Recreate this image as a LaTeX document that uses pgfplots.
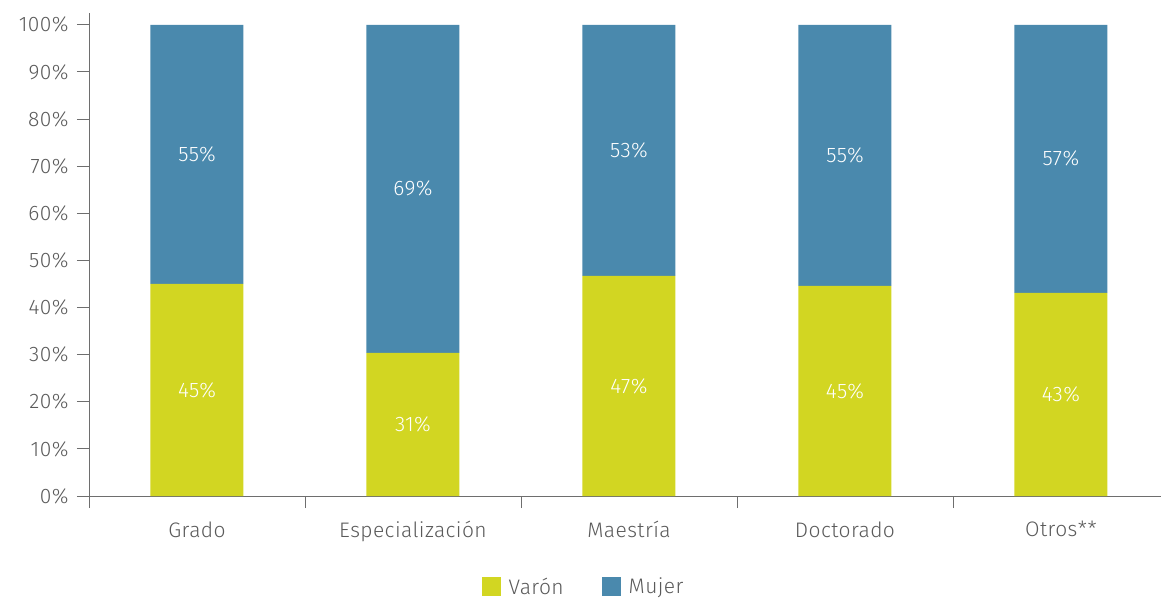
\documentclass[border=0pt]{standalone}
\usepackage{pgfplots}
\pgfplotsset{compat=1.18}
\usepackage{fontspec}
\setmainfont{Fira Sans}[UprightFont=* Light, LetterSpace=2]

\definecolor{verde}{HTML}{D2D622}
\definecolor{azul}{HTML}{4A89AD}
\definecolor{texto}{HTML}{5A5A5A}
\definecolor{eje}{HTML}{6E6E6E}

\begin{document}
\begin{tikzpicture}
\begin{axis}[
    ybar stacked,
    scale only axis,
    width=1080pt, height=483pt,
    xmin=-0.5, xmax=4.5,
    ymin=0, ymax=102.5,
    bar width=93pt,
    axis x line*=bottom,
    axis y line*=left,
    axis line style={draw=eje, line width=0.8pt},
    tick style={draw=eje, line width=0.8pt},
    tick align=outside,
    major tick length=12pt,
    font=\fontsize{21}{24}\selectfont,
    every tick label/.append style={text=texto},
    /pgf/number format/assume math mode=true,
    ytick={0,10,...,100},
    yticklabel={\pgfmathprintnumber{\tick}\%},
    yticklabel style={xshift=-5pt},
    xtick={-0.5,0.5,...,4.5},
    xticklabels={},
    extra x ticks={0,1,2,3,4},
    extra x tick labels={Grado,Especialización,Maestría,Doctorado,Otros**},
    extra x tick style={major tick length=0pt},
    extra x tick style={tick label style={yshift=-22pt}},
    legend style={
        draw=none, fill=none,
        at={(0.458,-0.188)}, anchor=center,
        legend columns=2,
        text=texto,
        font=\fontsize{21}{24}\selectfont,
        /tikz/every odd column/.append style={column sep=6pt},
        /tikz/every even column/.append style={column sep=36pt},
    },
    legend image code/.code={\fill[#1,draw=none] (0pt,-9.5pt) rectangle (19pt,9.5pt);},
    nodes near coords={\pgfplotspointmeta\%},
    point meta=explicit symbolic,
    every node near coord/.append style={
        text=white, anchor=center,
        font=\fontsize{21}{24}\selectfont},
]
% Varón: x, valor, etiqueta
\addplot[fill=verde, draw=none] table[x=x, y=v, meta=lab] {
x  v     lab
0  45.0  45
1  30.4  31
2  46.7  47
3  44.6  45
4  43.1  43
};
% Mujer
\addplot[fill=azul, draw=none] table[x=x, y=v, meta=lab] {
x  v     lab
0  55.0  55
1  69.6  69
2  53.3  53
3  55.4  55
4  56.9  57
};
\legend{Varón, Mujer}
\end{axis}
\pgfresetboundingbox
\path[use as bounding box] ([shift={(-89pt,-104pt)}]current axis.south west)
    rectangle ([shift={(1072pt,496pt)}]current axis.south west);
\end{tikzpicture}
\end{document}
